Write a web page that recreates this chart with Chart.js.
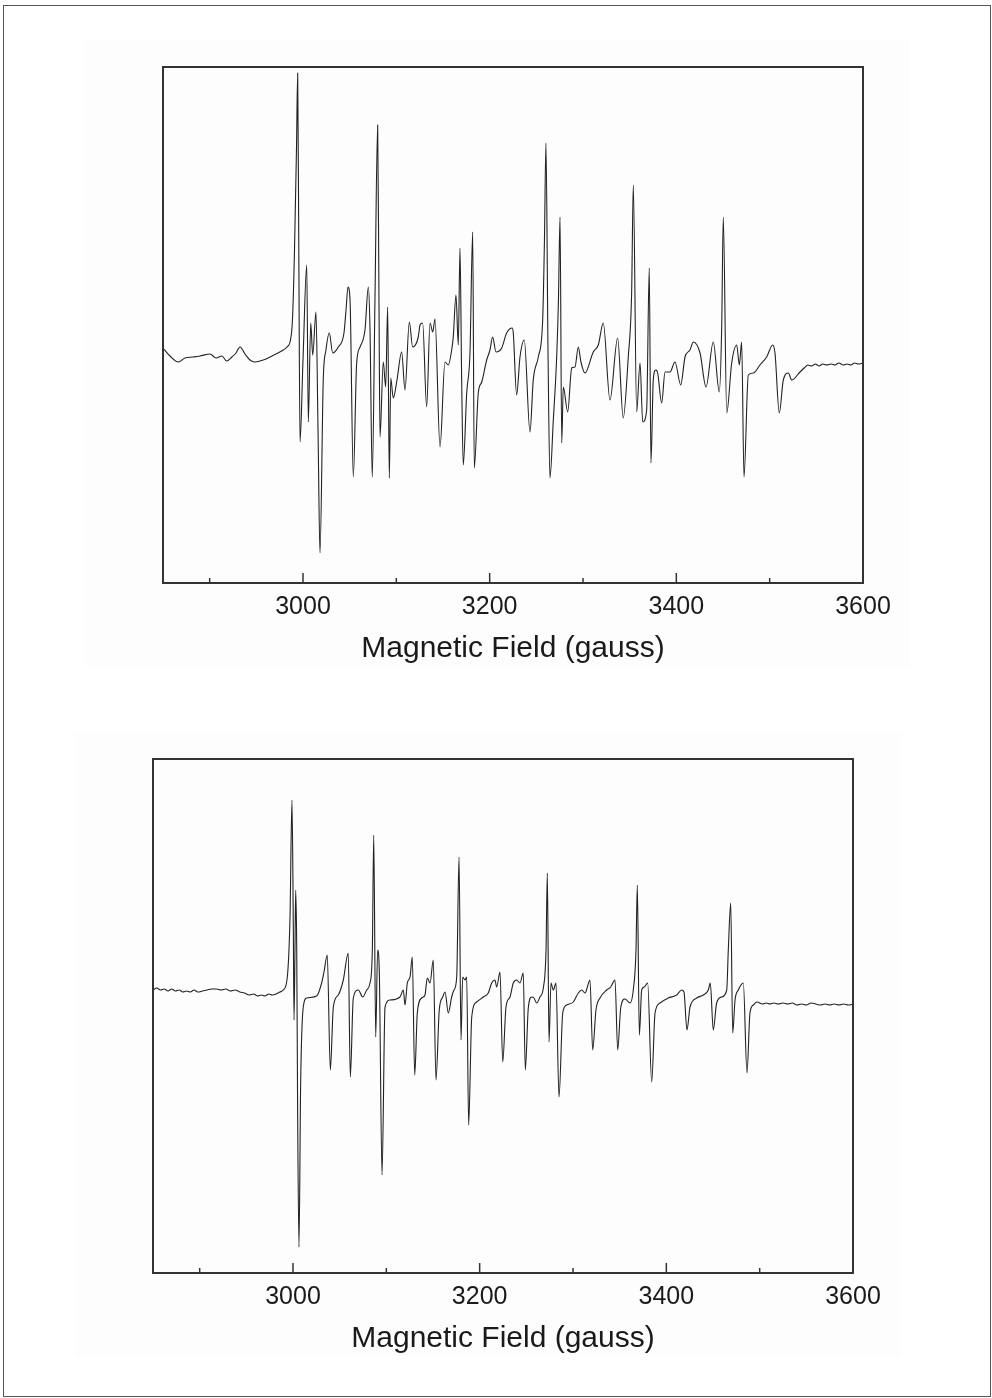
<!DOCTYPE html>
<html>
<head>
<meta charset="utf-8">
<title>EPR spectra</title>
<script src="https://cdn.jsdelivr.net/npm/chart.js@4.4.1/dist/chart.umd.min.js"></script>
<style>
  html, body { margin: 0; padding: 0; background: #fff; }
  body { width: 992px; height: 1398px; position: relative; overflow: hidden; }
  .page-border { position: absolute; left: 3px; top: 5px; width: 986px; height: 1390px; border: 1px solid #555; }
  .shade { position: absolute; background: #fdfdfd; }
  canvas { position: absolute; left: 0; }
</style>
</head>
<body>
<div class="page-border"></div>
<div class="shade" style="left:85px;top:40px;width:825px;height:627px"></div>
<div class="shade" style="left:75px;top:733px;width:826px;height:623px"></div>
<canvas id="topChart" width="992" height="667" style="top:0px"></canvas>
<canvas id="bottomChart" width="992" height="665" style="top:692px"></canvas>
<script>
// spectra: magnetic field (gauss) vs derivative signal (a.u.)
const topField = [
  2850, 2857.5, 2866.4, 2873.6, 2882.1, 2889.6, 2900.4, 2906.8, 2913.2, 2918.2,
  2923.9, 2928.2, 2932.5, 2937.9, 2943.2, 2948.6, 2953.9, 2960.4, 2966.8, 2973.2,
  2978.9, 2983.9, 2986.1, 2988.7, 2990.9, 2993, 2994.3, 2995.5, 2996.8, 3000,
  3004, 3005.7, 3008.3, 3010.4, 3013.9, 3016.1, 3018.2, 3021.7, 3024.6, 3028.2,
  3031.8, 3037.8, 3043.9, 3046.1, 3048.2, 3050.4, 3053.9, 3057.5, 3061.1, 3066.4,
  3070, 3071.8, 3074.2, 3077.1, 3080, 3081.4, 3082.5, 3086, 3088.6, 3090.7,
  3092.5, 3094, 3096.7, 3100.7, 3105.7, 3109.3, 3113.9, 3117.5, 3123.5, 3125.4,
  3128.2, 3132.5, 3136.1, 3139, 3141.4, 3146.8, 3152.1, 3155.7, 3159.3, 3161,
  3163.9, 3166.4, 3168.2, 3170, 3171.7, 3175.4, 3178.9, 3181.8, 3183.5, 3187.8,
  3191.5, 3196.8, 3200.3, 3203.2, 3206.8, 3212.9, 3218.2, 3224.2, 3225.3, 3228.9,
  3232.5, 3237.1, 3243.2, 3246.7, 3252.1, 3256.8, 3258.7, 3260.3, 3262.5, 3264.6,
  3268.2, 3271.8, 3273.7, 3275.4, 3277.2, 3278.9, 3283.6, 3287.9, 3291.4, 3295,
  3297.8, 3302.1, 3311, 3316.4, 3321.7, 3328.9, 3337.1, 3343.1, 3348.5, 3352.1,
  3353.9, 3357.5, 3361.1, 3364, 3368.2, 3371, 3372.8, 3375.3, 3377.9, 3380,
  3384.3, 3387.9, 3393.2, 3398.6, 3404.7, 3409.3, 3414.6, 3418.2, 3425.4, 3431.8,
  3439.6, 3446, 3448.6, 3450.3, 3454, 3459.3, 3464.7, 3467.5, 3470, 3472.5,
  3477.1, 3482.5, 3489.6, 3496.8, 3503.2, 3505.7, 3510.3, 3514.6, 3520, 3523.6,
  3532.5, 3537, 3541, 3545, 3549, 3553, 3557, 3561, 3566, 3570,
  3574, 3579, 3583, 3587, 3591, 3595, 3600
];
const topSignal = [
  7, -1, -7, -3, -2, -1, 1, -3, -1, -6,
  -2, 2, 8, 1, -5, -7, -6, -4, -1, 2,
  5, 9, 13, 35, 105, 205, 282, 105, -87, -5,
  90, -67, 32, 0, 43, -75, -198, -25, 5, 22,
  2, 8, 22, 45, 68, 55, -122, -8, 8, 25,
  68, 25, -122, 55, 230, 55, -82, -7, -32, 48,
  -123, -23, -43, -25, 3, -35, 33, 8, 18, 30,
  32, -52, 32, 23, 36, -92, -7, -10, 5, 18,
  60, 10, 107, -25, -110, -38, 2, 123, -113, -38,
  -27, -5, 5, 18, 3, 7, 22, 27, 22, -40,
  -2, 15, -77, -25, -2, 35, 115, 212, 5, -123,
  -65, -2, 55, 138, -88, -32, -57, -13, -12, 8,
  -7, -18, 3, 10, 32, -45, 17, -63, -2, 62,
  170, -57, -8, -67, -55, 87, -108, -25, -15, -18,
  -48, -17, -17, -7, -30, -2, 5, 13, 2, -32,
  13, -37, 28, 138, -58, -8, 10, -10, 13, -122,
  -20, -18, -10, -2, 10, 2, -58, -25, -18, -25,
  -17, -13, -10, -11, -9, -11, -9, -10, -9, -10,
  -8, -10, -9, -10, -8, -9, -8
];

const bottomField = [
  2850, 2854, 2858, 2862, 2866, 2870, 2874, 2878, 2882, 2886,
  2890, 2894, 2898, 2903, 2908, 2913, 2918, 2923, 2928, 2933,
  2938, 2943, 2948, 2953, 2958, 2962, 2966, 2970, 2974, 2978,
  2982, 2986, 2989.6, 2993.9, 2996.8, 2998.9, 3000.3, 3001.1, 3002.1, 3002.9,
  3004, 3005, 3006.4, 3008.2, 3011, 3014.7, 3025.4, 3030.7, 3033.2, 3036.7,
  3040, 3043.2, 3048.5, 3053.9, 3059.2, 3061.4, 3064.6, 3070, 3074.7, 3079,
  3082.5, 3085, 3086.5, 3088.6, 3090.7, 3092.5, 3095.4, 3098.6, 3103.9, 3114.6,
  3118.2, 3120, 3122.5, 3125.4, 3127.8, 3130.4, 3133.2, 3137.9, 3141.4, 3143.9,
  3146.8, 3150.3, 3153.2, 3156.7, 3160.4, 3162.9, 3166.4, 3170, 3172.5, 3175.4,
  3177.9, 3180, 3181.8, 3184.3, 3186.1, 3188.2, 3191.5, 3196.8, 3203.9, 3209.2,
  3212.9, 3216.4, 3218.2, 3221.8, 3224.7, 3228.2, 3232.5, 3236, 3239.7, 3243.2,
  3246.7, 3248.9, 3252.1, 3255.7, 3258.2, 3261.1, 3264.6, 3268.2, 3271.1, 3272.5,
  3274.3, 3276.4, 3278.9, 3281.8, 3285, 3289, 3293.2, 3300.3, 3305.7, 3309.3,
  3312.9, 3318.2, 3321.1, 3324.6, 3328.9, 3336.1, 3340.4, 3345, 3347.9, 3351.1,
  3355.7, 3361.1, 3364.6, 3367.5, 3368.9, 3371.1, 3373.6, 3376.4, 3380, 3384.3,
  3387.9, 3393.2, 3402.1, 3411.1, 3416.4, 3418.9, 3422.1, 3425.4, 3432.5, 3439.6,
  3445, 3447.1, 3450.3, 3453.9, 3459.3, 3464.7, 3466.4, 3469, 3471.1, 3473.6,
  3477.1, 3482.5, 3486.4, 3489.6, 3493.2, 3497, 3503, 3507, 3511, 3515,
  3520, 3525, 3530, 3535, 3540, 3545, 3550, 3555, 3560, 3565,
  3570, 3575, 3580, 3585, 3590, 3595, 3600
];
const bottomSignal = [
  5, 7, 5, 6, 4, 6, 4, 5, 3, 4,
  3, 5, 3, 4, 5, 6, 6, 5, 6, 4,
  5, 3, 2, 0, 1, -1, 0, -1, 1, 0,
  1, 3, 5, 18, 78, 195, 72, -25, 45, 105,
  45, -122, -252, -88, -12, -3, -1, 12, 23, 40,
  -75, -12, 0, 15, 42, -82, -3, 5, -2, 5,
  12, 45, 160, -42, 45, 22, -180, -12, -5, -2,
  5, -10, 12, 18, 38, -80, -18, -3, 0, 17,
  12, 35, -85, -15, -2, 3, -18, -2, 5, 18,
  138, -45, 18, 15, 18, -130, -22, -7, -2, 2,
  12, 15, 8, 23, -67, -12, -2, 12, 15, 12,
  22, -75, -13, -2, -3, -8, -2, 7, 45, 122,
  -47, 12, 5, 12, -102, -18, -10, -7, 2, 5,
  2, 15, -55, -15, -3, 5, 8, 15, -55, -13,
  -4, -8, 5, 45, 110, -40, 5, 8, 12, -87,
  -18, -8, -3, 0, 5, 3, -35, -12, -3, 0,
  5, 12, -35, -8, -2, 5, 45, 92, -38, -5,
  5, 12, -78, -18, -10, -7, -9, -8, -9, -8,
  -9, -8, -9, -8, -10, -9, -10, -8, -9, -10,
  -9, -10, -9, -10, -9, -10, -9
];

const tickValues = [2900, 3000, 3100, 3200, 3300, 3400, 3500, 3600];
const labelledTicks = [3000, 3200, 3400, 3600];
const fieldMin = 2850;
const fieldMax = 3600;

// frame round the plot plus inward tick marks, like the original figure
const frameAndTicks = {
  id: 'frameAndTicks',
  afterDatasetsDraw(chart) {
    const { ctx, chartArea: a, scales: { x } } = chart;
    ctx.save();
    ctx.strokeStyle = '#333';
    ctx.lineWidth = 1.5;
    tickValues.forEach(v => {
      const px = x.getPixelForValue(v);
      const len = labelledTicks.includes(v) ? 10 : 5;
      ctx.beginPath();
      ctx.moveTo(px, a.bottom);
      ctx.lineTo(px, a.bottom - len);
      ctx.stroke();
    });
    ctx.lineWidth = 2;
    ctx.strokeRect(a.left, a.top, a.right - a.left, a.bottom - a.top);
    ctx.restore();
  }
};

function makeChart(canvasId, field, signal, yMin, yMax, padLeft, padRight) {
  return new Chart(document.getElementById(canvasId), {
    type: 'line',
    data: {
      datasets: [{
        data: field.map((x, i) => ({ x, y: signal[i] })),
        borderColor: '#222',
        borderWidth: 1.1,
        pointRadius: 0,
        cubicInterpolationMode: 'monotone',
        fill: false
      }]
    },
    options: {
      responsive: false,
      animation: false,
      events: [],
      layout: { padding: { left: padLeft, right: padRight, top: 67, bottom: 0 } },
      plugins: { legend: { display: false }, tooltip: { enabled: false } },
      scales: {
        x: {
          type: 'linear',
          min: fieldMin,
          max: fieldMax,
          afterBuildTicks: s => { s.ticks = tickValues.map(v => ({ value: v })); },
          afterFit: s => { s.height = 84; },
          grid: { display: false, drawTicks: false, tickLength: 0 },
          border: { display: false },
          ticks: {
            autoSkip: false,
            maxRotation: 0,
            padding: 9,
            color: '#1a1a1a',
            font: { family: '"Liberation Sans", Arial, sans-serif', size: 25 },
            callback: v => labelledTicks.includes(v) ? String(v) : ''
          },
          title: {
            display: true,
            text: 'Magnetic Field (gauss)',
            color: '#1a1a1a',
            font: { family: '"Liberation Sans", Arial, sans-serif', size: 30 },
            padding: { top: 0, bottom: 0 }
          }
        },
        y: { display: false, min: yMin, max: yMax }
      }
    },
    plugins: [frameAndTicks]
  });
}

makeChart('topChart', topField, topSignal, -228, 288, 163, 129);
makeChart('bottomChart', bottomField, bottomSignal, -278, 236, 153, 139);
</script>
</body>
</html>
